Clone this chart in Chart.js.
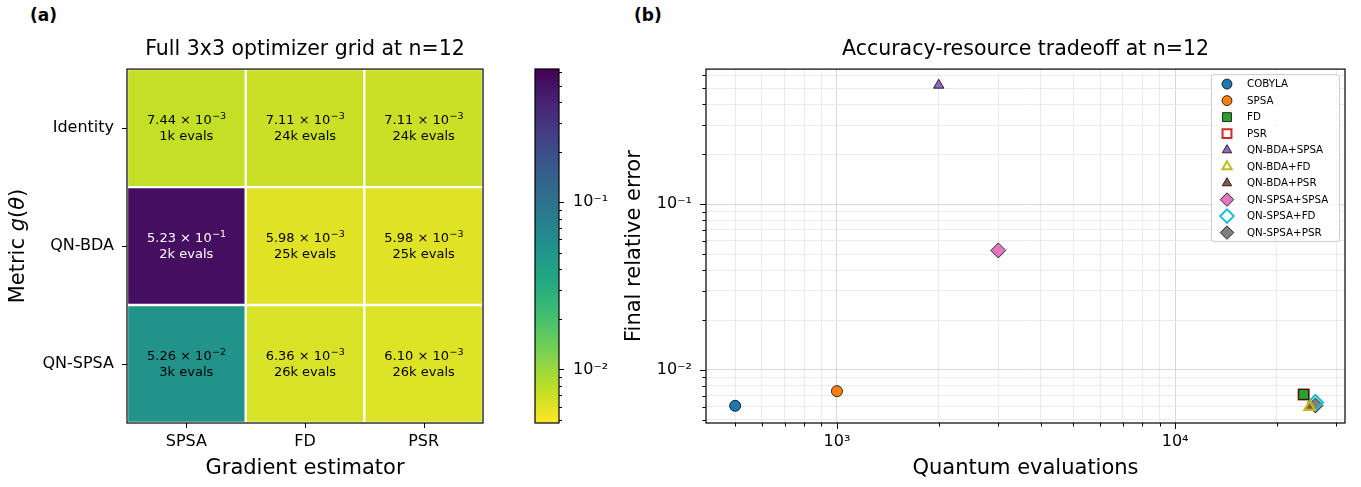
<!DOCTYPE html>
<html>
<head>
<meta charset="utf-8">
<script src="https://cdn.jsdelivr.net/npm/chart.js@4.4.1/dist/chart.umd.min.js"></script>
<style>
    body { margin: 0; width: 1361px; height: 487px; background: #fff; position: relative; overflow: hidden; font-family: "DejaVu Sans", sans-serif; }
    canvas { position: absolute; top: 0; }
    .panel { position: absolute; font-weight: bold; font-size: 17px; }
</style>
</head>
<body>
<div class="panel" style="left:30px; top:5px">(a)</div>
<div class="panel" style="left:634px; top:5px">(b)</div>
<canvas id="heatChart" width="500" height="487" style="left:0"></canvas>
<canvas id="barChart" width="130" height="487" style="left:500px"></canvas>
<canvas id="tradeChart" width="761" height="487" style="left:600px"></canvas>
<script>
// ---- panel (a): final relative error per (metric, gradient estimator) ----
const gradLabels = ["SPSA", "FD", "PSR"];
const metricLabels = ["Identity", "QN-BDA", "QN-SPSA"];
const errIdentity = [7.44e-3, 7.11e-3, 7.11e-3];
const errQnBda = [5.23e-1, 5.98e-3, 5.98e-3];
const errQnSpsa = [5.26e-2, 6.36e-3, 6.10e-3];
const kevalsIdentity = [1, 24, 24];
const kevalsQnBda = [2, 25, 25];
const kevalsQnSpsa = [3, 26, 26];
const colorbarMin = 0.00478;
const colorbarMax = 0.628;

// ---- panel (b): accuracy vs quantum evaluations ----
const methodNames = ["COBYLA", "SPSA", "FD", "PSR", "QN-BDA+SPSA", "QN-BDA+FD", "QN-BDA+PSR",
    "QN-SPSA+SPSA", "QN-SPSA+FD", "QN-SPSA+PSR"];
const methodEvals = [500, 1000, 24000, 24000, 2000, 25000, 25000, 3000, 26000, 26000];
const methodErrors = [0.00607, 0.00744, 0.00711, 0.00711, 0.523, 0.00598, 0.00598, 0.0526, 0.00636, 0.0061];
const evalsRange = [410, 31800];
const errorRange = [0.00478, 0.654];

// styles
const methodColors = ["#1f77b4", "#ff7f0e", "#2ca02c", "#d62728", "#9467bd", "#bcbd22", "#8c564b",
    "#e377c2", "#17becf", "#7f7f7f"];
const methodShapes = ["circle", "circle", "rect", "rect", "triangle", "triangle", "triangle",
    "rectRot", "rectRot", "rectRot"];
const methodHollow = [false, false, false, true, false, true, false, false, true, false];
const markerRadius = { circle: 5.5, rect: 7, triangle: 6, rectRot: 7.5 };

const viridis = ["#440154", "#482475", "#414487", "#355f8d", "#2a788e", "#21918c",
    "#22a884", "#44bf70", "#7ad151", "#bddf26", "#fde725"];

const FONT = "'DejaVu Sans', sans-serif";
Chart.defaults.font.family = FONT;
Chart.defaults.color = "#000";
Chart.defaults.animation = false;

function hexToRgb(h) {
    return [1, 3, 5].map(i => parseInt(h.slice(i, i + 2), 16));
}

function viridisAt(t) {
    t = Math.min(1, Math.max(0, t));
    const pos = t * (viridis.length - 1);
    const i = Math.min(viridis.length - 2, Math.floor(pos));
    const f = pos - i;
    const a = hexToRgb(viridis[i]);
    const b = hexToRgb(viridis[i + 1]);
    const c = a.map((v, k) => Math.round(v + (b[k] - v) * f));
    return `rgb(${c[0]}, ${c[1]}, ${c[2]})`;
}

function lognorm(v) {
    return (Math.log10(v) - Math.log10(colorbarMin)) / (Math.log10(colorbarMax) - Math.log10(colorbarMin));
}

// reversed viridis: large error = dark
function cellColor(v) {
    return viridisAt(1 - lognorm(v));
}

const SUP = { "-": "\u207b", "0": "\u2070", "1": "\u00b9", "2": "\u00b2", "3": "\u00b3", "4": "\u2074",
    "5": "\u2075", "6": "\u2076", "7": "\u2077", "8": "\u2078", "9": "\u2079" };
function sup(n) {
    return String(n).split("").map(ch => SUP[ch]).join("");
}

function isMajor(v) {
    const l = Math.log10(v);
    return Math.abs(l - Math.round(l)) < 1e-9;
}

function logTicks(min, max) {
    const out = [];
    for (let e = Math.floor(Math.log10(min)); e <= Math.ceil(Math.log10(max)); e++) {
        for (let m = 1; m < 10; m++) {
            const v = m * Math.pow(10, e);
            if (v >= min && v <= max) out.push({ value: v });
        }
    }
    return out;
}

function powLabel(v) {
    return isMajor(v) ? "10" + sup(Math.round(Math.log10(v))) : "";
}

// "m.mm × 10^e" with a raised exponent, centred on (cx, cy)
function drawSci(ctx, v, cx, cy) {
    const e = Math.floor(Math.log10(v) + 1e-9);
    const base = `${(v / Math.pow(10, e)).toFixed(2)} \u00d7 10`;
    const exp = String(e).replace("-", "\u2212");
    ctx.font = `13px ${FONT}`;
    const wb = ctx.measureText(base).width;
    ctx.font = `9.5px ${FONT}`;
    const we = ctx.measureText(exp).width;
    const x0 = cx - (wb + we) / 2;
    ctx.textAlign = "left";
    ctx.font = `13px ${FONT}`;
    ctx.fillText(base, x0, cy);
    ctx.font = `9.5px ${FONT}`;
    ctx.fillText(exp, x0 + wb + 0.5, cy - 5);
}

// spine box + outward tick marks (matplotlib look)
function drawFrame(chart, sides, major, minor) {
    const { ctx, chartArea: a } = chart;
    ctx.save();
    ctx.strokeStyle = "#000";
    ctx.lineWidth = 1;
    for (const [id, side] of sides) {
        const s = chart.scales[id];
        for (const t of s.ticks) {
            const len = (s.type === "logarithmic" && !isMajor(t.value)) ? minor : major;
            const p = Math.round(s.getPixelForValue(t.value)) + 0.5;
            ctx.beginPath();
            if (side === "bottom") { ctx.moveTo(p, a.bottom); ctx.lineTo(p, a.bottom + len); }
            if (side === "left") { ctx.moveTo(a.left, p); ctx.lineTo(a.left - len, p); }
            if (side === "right") { ctx.moveTo(a.right, p); ctx.lineTo(a.right + len, p); }
            ctx.stroke();
        }
    }
    ctx.lineWidth = 1.2;
    ctx.strokeRect(a.left, a.top, a.right - a.left, a.bottom - a.top);
    ctx.restore();
}

function drawMarker(ctx, shape, r, x, y) {
    ctx.beginPath();
    if (shape === "circle") {
        ctx.arc(x, y, r, 0, Math.PI * 2);
    } else if (shape === "rect") {
        const h = r * Math.SQRT1_2;
        ctx.rect(x - h, y - h, 2 * h, 2 * h);
    } else if (shape === "rectRot") {
        ctx.moveTo(x, y - r); ctx.lineTo(x + r, y); ctx.lineTo(x, y + r); ctx.lineTo(x - r, y);
        ctx.closePath();
    } else if (shape === "triangle") {
        ctx.moveTo(x, y - r);
        ctx.lineTo(x + r * Math.sin(Math.PI / 3), y + r * 0.5);
        ctx.lineTo(x - r * Math.sin(Math.PI / 3), y + r * 0.5);
        ctx.closePath();
    }
    ctx.fill();
    ctx.stroke();
}

const titleFont = { size: 20.5, weight: "normal" };
const titlePad = { top: 37.5, bottom: 7 };

// ---------------- heatmap ----------------
const errRows = [errIdentity, errQnBda, errQnSpsa];
const kevalRows = [kevalsIdentity, kevalsQnBda, kevalsQnSpsa];

const heatPlugin = {
    id: "heatDecor",
    afterDatasetsDraw(chart) {
        const ctx = chart.ctx;
        ctx.save();
        ctx.textBaseline = "alphabetic";
        errRows.forEach((row, r) => {
            const meta = chart.getDatasetMeta(r);
            row.forEach((v, c) => {
                const el = meta.data[c];
                const cy = (el.y + el.base) / 2;
                ctx.fillStyle = lognorm(v) > 0.6 ? "#fff" : "#000";
                drawSci(ctx, v, el.x, cy - 4);
                ctx.textAlign = "center";
                ctx.font = `13px ${FONT}`;
                ctx.fillText(`${kevalRows[r][c]}k evals`, el.x, cy + 12);
            });
        });
        ctx.restore();
    },
    afterDraw(chart) {
        drawFrame(chart, [["x", "bottom"], ["y", "left"]], 5, 5);
        // y title with italic g(theta)
        const ctx = chart.ctx;
        const a = chart.chartArea;
        const parts = [["Metric ", "normal"], ["g", "italic"], ["(", "normal"], ["\u03b8", "italic"], [")", "normal"]];
        ctx.save();
        ctx.fillStyle = "#000";
        ctx.textBaseline = "middle";
        let total = 0;
        for (const [t, st] of parts) { ctx.font = `${st} 21px ${FONT}`; total += ctx.measureText(t).width; }
        ctx.translate(19, (a.top + a.bottom) / 2);
        ctx.rotate(-Math.PI / 2);
        let x = -total / 2;
        for (const [t, st] of parts) {
            ctx.font = `${st} 21px ${FONT}`;
            ctx.fillText(t, x, 0);
            x += ctx.measureText(t).width;
        }
        ctx.restore();
    },
};

new Chart(document.getElementById("heatChart"), {
    type: "bar",
    data: {
        labels: gradLabels,
        datasets: errRows.map((row, r) => ({
            label: metricLabels[r],
            data: row.map(() => [r - 0.5, r + 0.5]),
            backgroundColor: row.map(cellColor),
            borderColor: "#fff",
            borderWidth: 1.5,
            borderSkipped: false,
            barPercentage: 1,
            categoryPercentage: 1,
            grouped: false,
        })),
    },
    options: {
        responsive: false,
        layout: { padding: { left: 0, right: 17, top: 0, bottom: 0 }, autoPadding: false },
        plugins: {
            legend: { display: false },
            tooltip: { enabled: false },
            title: {
                display: true,
                fullSize: false,
                text: "Full 3x3 optimizer grid at n=12",
                font: titleFont,
                color: "#000",
                padding: titlePad,
            },
        },
        scales: {
            x: {
                grid: { display: false, drawTicks: false },
                border: { display: false },
                ticks: { font: { size: 16 }, padding: 9, maxRotation: 0 },
                title: { display: true, text: "Gradient estimator", font: { size: 21 }, padding: { top: 0, bottom: 6 } },
                afterFit: (s) => { s.height = 64; },
            },
            y: {
                type: "linear",
                reverse: true,
                min: -0.5,
                max: 2.5,
                grid: { display: false, drawTicks: false },
                border: { display: false },
                afterBuildTicks: (s) => { s.ticks = metricLabels.map((_, i) => ({ value: i })); },
                ticks: { font: { size: 16 }, padding: 13, callback: (v) => metricLabels[v] },
                afterFit: (s) => { s.width = 127; },
            },
        },
    },
    plugins: [heatPlugin],
});

// ---------------- colorbar ----------------
const colorbarPlugin = {
    id: "colorbarFill",
    beforeDatasetsDraw(chart) {
        const { ctx, chartArea: a } = chart;
        const g = ctx.createLinearGradient(0, a.bottom, 0, a.top);
        for (let i = 0; i <= 20; i++) g.addColorStop(i / 20, viridisAt(1 - i / 20));
        ctx.save();
        ctx.fillStyle = g;
        ctx.fillRect(a.left, a.top, a.right - a.left, a.bottom - a.top);
        ctx.restore();
    },
    afterDraw(chart) {
        drawFrame(chart, [["y", "right"]], 5, 3);
    },
};

new Chart(document.getElementById("barChart"), {
    type: "bar",
    data: { labels: [""], datasets: [{ data: [] }] },
    options: {
        responsive: false,
        layout: { padding: { left: 35, right: 0, top: 69, bottom: 64 }, autoPadding: false },
        plugins: { legend: { display: false }, tooltip: { enabled: false } },
        scales: {
            x: { display: false },
            y: {
                type: "logarithmic",
                position: "right",
                min: colorbarMin,
                max: colorbarMax,
                grid: { display: false, drawTicks: false },
                border: { display: false },
                afterBuildTicks: (s) => { s.ticks = logTicks(colorbarMin, colorbarMax); },
                ticks: { font: { size: 16 }, padding: 14, autoSkip: false, callback: powLabel },
                afterFit: (s) => { s.width = 71; },
            },
        },
    },
    plugins: [colorbarPlugin],
});

// ---------------- tradeoff scatter ----------------
const legendPlugin = {
    id: "boxLegend",
    afterDraw(chart) {
        drawFrame(chart, [["x", "bottom"], ["y", "left"]], 6, 3.5);
        const { ctx, chartArea: a } = chart;
        const left = a.right - 134, top = a.top + 5, w = 128, h = 167;
        ctx.save();
        ctx.fillStyle = "rgba(255,255,255,0.8)";
        ctx.strokeStyle = "#cccccc";
        ctx.lineWidth = 1;
        ctx.beginPath();
        ctx.roundRect(left + 0.5, top + 0.5, w, h, 3);
        ctx.fill();
        ctx.stroke();
        ctx.font = `10.3px ${FONT}`;
        ctx.textBaseline = "middle";
        methodNames.forEach((name, i) => {
            const y = top + 10 + i * 16.5;
            const shape = methodShapes[i];
            ctx.fillStyle = methodHollow[i] ? "#fff" : methodColors[i];
            ctx.strokeStyle = methodHollow[i] ? methodColors[i] : "#000";
            ctx.lineWidth = methodHollow[i] ? 2 : 0.8;
            drawMarker(ctx, shape, markerRadius[shape] * 0.9, left + 16, y);
            ctx.fillStyle = "#000";
            ctx.fillText(name, left + 36, y + 0.5);
        });
        ctx.restore();
    },
};

function gridColor(c) {
    return c.tick && isMajor(c.tick.value) ? "#d8d8d8" : "#ebebeb";
}

new Chart(document.getElementById("tradeChart"), {
    type: "scatter",
    data: {
        datasets: methodNames.map((name, i) => ({
            label: name,
            data: [{ x: methodEvals[i], y: methodErrors[i] }],
            pointStyle: methodShapes[i],
            pointRadius: markerRadius[methodShapes[i]],
            backgroundColor: methodHollow[i] ? "rgba(0,0,0,0)" : methodColors[i],
            borderColor: methodHollow[i] ? methodColors[i] : "#000",
            borderWidth: methodHollow[i] ? 2.2 : 0.8,
        })),
    },
    options: {
        responsive: false,
        layout: { padding: { left: 0, right: 16, top: 0, bottom: 0 }, autoPadding: false },
        plugins: {
            legend: { display: false },
            tooltip: { enabled: false },
            title: {
                display: true,
                fullSize: false,
                text: "Accuracy-resource tradeoff at n=12",
                font: titleFont,
                color: "#000",
                padding: titlePad,
            },
        },
        scales: {
            x: {
                type: "logarithmic",
                min: evalsRange[0],
                max: evalsRange[1],
                grid: { color: gridColor, drawTicks: false },
                border: { display: false },
                afterBuildTicks: (s) => { s.ticks = logTicks(evalsRange[0], evalsRange[1]); },
                ticks: { font: { size: 16 }, padding: 9, autoSkip: false, maxRotation: 0, callback: powLabel },
                title: { display: true, text: "Quantum evaluations", font: { size: 21 }, padding: { top: 0, bottom: 6 } },
                afterFit: (s) => { s.height = 64; },
            },
            y: {
                type: "logarithmic",
                min: errorRange[0],
                max: errorRange[1],
                grid: { color: gridColor, drawTicks: false },
                border: { display: false },
                afterBuildTicks: (s) => { s.ticks = logTicks(errorRange[0], errorRange[1]); },
                ticks: { font: { size: 16 }, padding: 14, autoSkip: false, callback: powLabel },
                title: { display: true, text: "Final relative error", font: { size: 21 }, padding: { top: 22, bottom: 0 } },
                afterFit: (s) => { s.width = 106; },
            },
        },
    },
    plugins: [legendPlugin],
});
</script>
</body>
</html>
